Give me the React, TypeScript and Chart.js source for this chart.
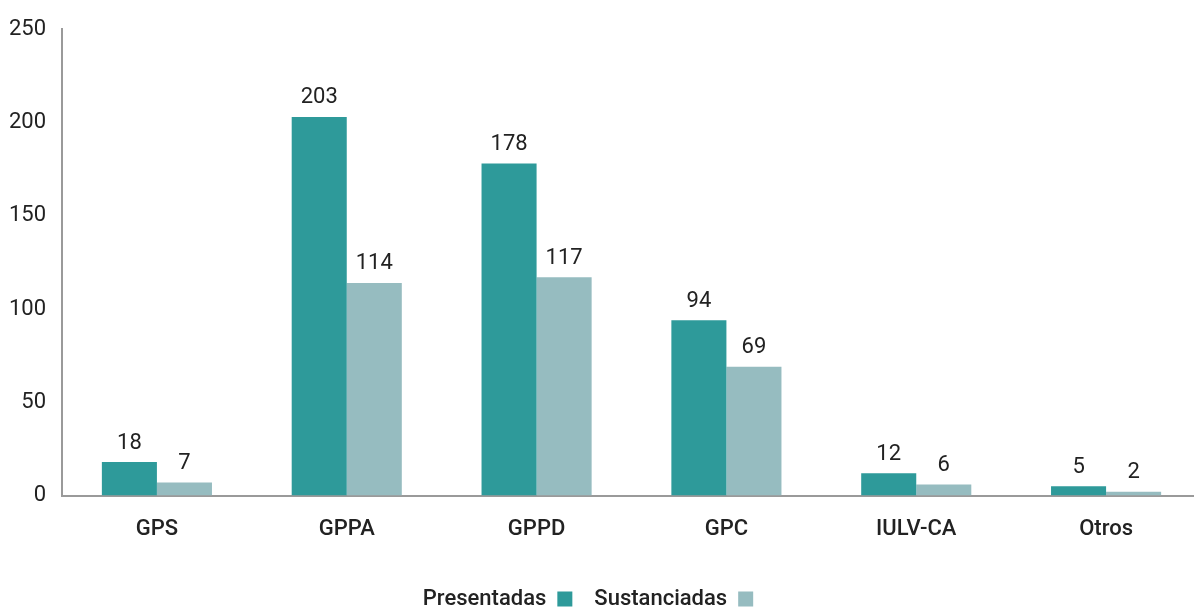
import React, { useEffect, useRef } from "react";
import { Chart, registerables } from "chart.js";

Chart.register(...registerables);

const categories = ["GPS", "GPPA", "GPPD", "GPC", "IULV-CA", "Otros"];
const presentadas = [18, 203, 178, 94, 12, 5];
const sustanciadas = [7, 114, 117, 69, 6, 2];
const seriesNames = ["Presentadas", "Sustanciadas"];
const seriesColors = ["#2E9A9A", "#96BCC0"];

const FONT = "Roboto, 'Open Sans', sans-serif";

const valueLabels = {
  id: "valueLabels",
  afterDatasetsDraw(chart: any) {
    const ctx = chart.ctx;
    ctx.save();
    ctx.font = `22px ${FONT}`;
    ctx.fillStyle = "#222";
    ctx.textAlign = "center";
    ctx.textBaseline = "bottom";
    chart.data.datasets.forEach((ds: any, i: number) => {
      const meta = chart.getDatasetMeta(i);
      meta.data.forEach((bar: any, j: number) => {
        ctx.fillText(String(ds.data[j]), bar.x, bar.y - 8);
      });
    });
    ctx.restore();
  },
};

const customLegend = {
  id: "customLegend",
  afterDraw(chart: any) {
    const ctx = chart.ctx;
    ctx.save();
    ctx.font = `500 22px ${FONT}`;
    ctx.textBaseline = "middle";
    ctx.textAlign = "left";
    const y = 599;
    const box = 15;
    const gapText = 11;
    const gapItem = 22;
    const widths = seriesNames.map((n) => ctx.measureText(n).width);
    const total =
      widths.reduce((a: number, b: number) => a + b, 0) +
      seriesNames.length * (gapText + box) +
      gapItem * (seriesNames.length - 1);
    let x = 588 - total / 2;
    seriesNames.forEach((n, i) => {
      ctx.fillStyle = "#222";
      ctx.fillText(n, x, y);
      x += widths[i] + gapText;
      ctx.fillStyle = seriesColors[i];
      ctx.fillRect(x, y - box / 2, box, box);
      x += box + gapItem;
    });
    ctx.restore();
  },
};

export default function App() {
  const ref = useRef<HTMLCanvasElement>(null);
  useEffect(() => {
    const chart = new Chart(ref.current!, {
      type: "bar",
      data: {
        labels: categories,
        datasets: [
          {
            label: seriesNames[0],
            data: presentadas,
            backgroundColor: seriesColors[0],
            categoryPercentage: 0.58,
            barPercentage: 1,
          },
          {
            label: seriesNames[1],
            data: sustanciadas,
            backgroundColor: seriesColors[1],
            categoryPercentage: 0.58,
            barPercentage: 1,
          },
        ],
      },
      options: {
        animation: false,
        responsive: true,
        maintainAspectRatio: false,
        layout: { padding: { left: 0, right: 9, top: 14, bottom: 45 } },
        plugins: { legend: { display: false }, tooltip: { enabled: false } },
        scales: {
          x: {
            grid: { display: false, drawTicks: false },
            border: { display: true, color: "#9a9a9a", width: 2 },
            ticks: {
              color: "#222",
              font: { family: FONT, size: 22, weight: "500" },
              padding: 21,
            },
          },
          y: {
            min: 0,
            max: 250,
            afterFit: (scale: any) => {
              scale.width = 62;
            },
            grid: { display: false, drawTicks: false },
            border: { display: true, color: "#9a9a9a", width: 2 },
            ticks: {
              stepSize: 50,
              color: "#222",
              font: { family: FONT, size: 22 },
              padding: 16,
            },
          },
        },
      },
      plugins: [valueLabels, customLegend],
    });
    return () => chart.destroy();
  }, []);
  return (
    <div
      style={{
        position: "fixed",
        left: 0,
        top: 0,
        width: 1194,
        height: 609,
        overflow: "hidden",
        background: "#fff",
      }}
    >
      <div style={{ position: "relative", width: 1210, height: 609 }}>
        <canvas ref={ref} />
      </div>
    </div>
  );
}
